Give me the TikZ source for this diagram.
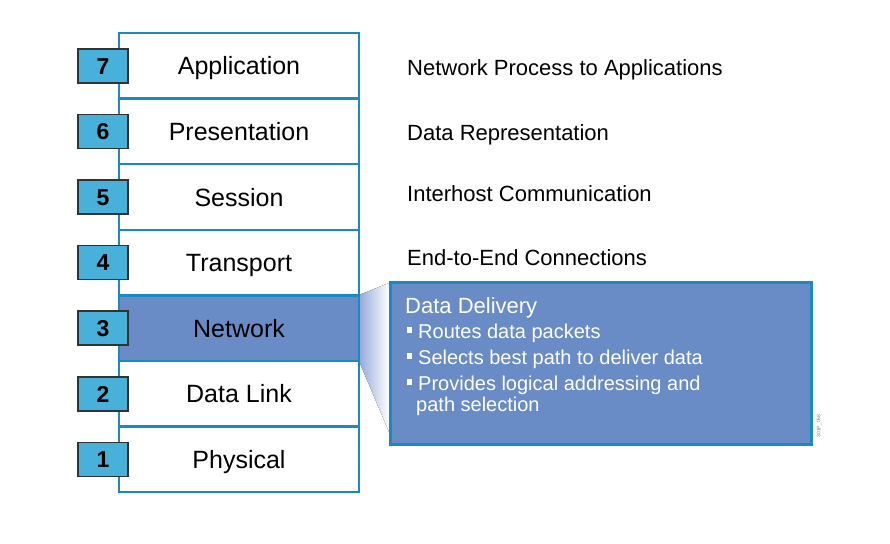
\documentclass[tikz,border=0pt]{standalone}
\usepackage{fontspec}
\setmainfont{Liberation Sans}
\usetikzlibrary{calc}
\definecolor{stackblue}{HTML}{1B8AC2}
\definecolor{netfill}{HTML}{6A8CC6}
\definecolor{numfill}{HTML}{47B1DA}
\definecolor{numedge}{HTML}{333333}
\definecolor{funnelblue}{HTML}{93AAD8}
\begin{document}
\begin{tikzpicture}[x=1pt,y=-1pt,
  layer/.style={draw=stackblue, line width=2.5pt, fill=white,
    minimum width=240pt, minimum height=65.6pt, inner sep=0pt,
    text height=18pt, text depth=0pt,
    font=\fontsize{25}{30}\selectfont},
  numbox/.style={draw=numedge, line width=1.5pt, fill=numfill,
    minimum width=50pt, minimum height=34pt, inner sep=0pt,
    text height=16.5pt, text depth=0pt,
    font=\fontsize{23}{28}\selectfont\bfseries},
  desc/.style={anchor=west, inner sep=0pt, text height=16pt, text depth=0pt,
    font=\fontsize{22}{26}\selectfont},
  bulletline/.style={anchor=west, inner sep=0pt, text=white,
    text height=14.5pt, text depth=0pt, font=\fontsize{20}{24}\selectfont},
  bulletmark/.style={fill=white, minimum width=5pt, minimum height=6pt, inner sep=0pt}
]
\useasboundingbox (0,0) rectangle (890,543);
\fill[white] (0,0) rectangle (890,543);

% Funnel joining the Network layer to the callout
\coordinate (ftop) at (389,283);
\coordinate (fbot) at (389,432);

% OSI stack
\node[layer] (l7) at (239,65.8) {Application};
\node[layer] (l6) at (239,131.4) {Presentation};
\node[layer] (l5) at (239,197.0) {Session};
\node[layer] (l4) at (239,262.6) {Transport};
\node[layer] (l2) at (239,393.8) {Data Link};
\node[layer] (l1) at (239,459.4) {Physical};

\fill[left color=funnelblue, right color=white]
  (239+120,295) coordinate (fa) -- (ftop) -- (fbot) -- (239+120,361) coordinate (fb) -- cycle;

\node[layer, fill=netfill] (l3) at (239,328.2) {Network};

% Layer numbers
\node[numbox] (n7) at (103,65.8) {7};
\node[numbox] (n6) at (103,131.4) {6};
\node[numbox] (n5) at (103,197.0) {5};
\node[numbox] (n4) at (103,262.6) {4};
\node[numbox] (n3) at (103,328.2) {3};
\node[numbox] (n2) at (103,393.8) {2};
\node[numbox] (n1) at (103,459.4) {1};

% Layer functions
\node[desc] (d7) at (407,67) {Network Process to Applications};
\node[desc] (d6) at (407,132) {Data Representation};
\node[desc] (d5) at (407,193) {Interhost Communication};
\node[desc] (d4) at (407,257) {End-to-End Connections};

% Network layer callout
\node[draw=stackblue, line width=3pt, fill=netfill, minimum width=421pt,
  minimum height=162pt, inner sep=0pt, anchor=north west] (callout) at (389,281) {};
\node[anchor=base west, inner sep=0pt, text=white, font=\fontsize{22}{26}\selectfont]
  (ctitle) at (405,313) {Data Delivery};
\node[bulletmark] (b1) at (409.5,330) {};
\node[bulletline] (t1) at (418,331) {Routes data packets};
\node[bulletmark] (b2) at (409.5,356) {};
\node[bulletline] (t2) at (418,357) {Selects best path to deliver data};
\node[bulletmark] (b3) at (409.5,382) {};
\node[bulletline] (t3) at (418,383) {Provides logical addressing and};
\node[bulletline] (t4) at (416,404) {path selection};

\node[rotate=90, inner sep=0pt, text=gray, font=\fontsize{5}{6}\selectfont]
  (figid) at (819,426) {301P\_058};
\end{tikzpicture}
\end{document}
